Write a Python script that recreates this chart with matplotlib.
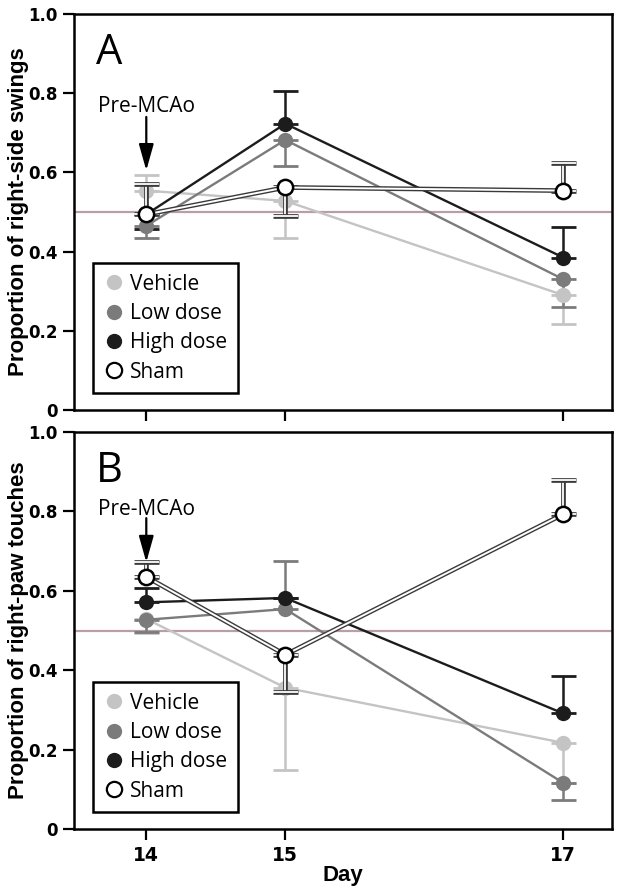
import matplotlib
matplotlib.use("Agg")
import matplotlib.pyplot as plt
import matplotlib.patheffects as pe
from matplotlib.lines import Line2D
import numpy as np

days = [14, 15, 17]
groups = ["Vehicle", "Low dose", "High dose", "Sham"]

# Panel A: proportion of right-side swings
a_vehicle = [0.554, 0.528, 0.290]
a_low = [0.465, 0.682, 0.330]
a_high = [0.494, 0.723, 0.385]
a_sham = [0.494, 0.562, 0.554]
a_vehicle_lo = [0.0, 0.093, 0.074]
a_vehicle_hi = [0.040, 0.0, 0.0]
a_low_lo = [0.030, 0.067, 0.070]
a_low_hi = [0.0, 0.0, 0.0]
a_high_lo = [0.038, 0.0, 0.0]
a_high_hi = [0.0, 0.083, 0.076]
a_sham_lo = [0.0, 0.072, 0.0]
a_sham_hi = [0.077, 0.0, 0.071]

# Panel B: proportion of right-paw touches
b_vehicle = [0.529, 0.356, 0.217]
b_low = [0.527, 0.554, 0.116]
b_high = [0.571, 0.582, 0.291]
b_sham = [0.635, 0.439, 0.793]
b_vehicle_lo = [0.035, 0.208, 0.100]
b_vehicle_hi = [0.0, 0.0, 0.0]
b_low_lo = [0.032, 0.0, 0.043]
b_low_hi = [0.0, 0.122, 0.0]
b_high_lo = [0.0, 0.0, 0.0]
b_high_hi = [0.037, 0.0, 0.095]
b_sham_lo = [0.0, 0.093, 0.0]
b_sham_hi = [0.038, 0.0, 0.085]

colors = {"Vehicle": "#c4c4c4", "Low dose": "#7b7b7b", "High dose": "#1c1c1c"}

fig = plt.figure(figsize=(6.19, 8.90), dpi=100)
axA = fig.add_axes([74/619, 1-410/890, 538/619, 396/890])
axB = fig.add_axes([74/619, 1-829/890, 538/619, 397/890])

legend_font = "Open Sans"

def draw_panel(ax, series, letter, ylabel, show_xlabels):
    ax.axhline(0.5, color="#b99ea8", lw=1.6, zorder=1)
    for name, y, lo, hi in series:
        y = np.array(y); lo = np.array(lo); hi = np.array(hi)
        if name == "Sham":
            eff = [pe.Stroke(linewidth=3.4, foreground="#3a3a3a"), pe.Normal()]
            ax.errorbar(days, y, yerr=[lo, hi], fmt="none", ecolor="white",
                        elinewidth=1.3, capsize=9, capthick=1.3, zorder=5)
            for l in ax.lines[-2:]:
                l.set_path_effects(eff)
            for c in ax.collections[-1:]:
                c.set_path_effects(eff)
            ax.plot(days, y, color="white", lw=1.4, zorder=6,
                    path_effects=eff)
            ax.plot(days, y, "o", ms=11, mfc="white", mec="black", mew=1.8,
                    zorder=7, ls="none")
        else:
            c = colors[name]
            ax.errorbar(days, y, yerr=[lo, hi], fmt="none", ecolor=c,
                        elinewidth=1.8, capsize=9, capthick=2.0, zorder=3)
            ax.plot(days, y, "-o", color=c, lw=1.7, ms=11, mew=0, zorder=4)
    ax.set_xlim(13.48, 17.35)
    ax.set_ylim(0, 1.0)
    ax.set_yticks([0, 0.2, 0.4, 0.6, 0.8, 1.0])
    ax.set_yticklabels(["0", "0.2", "0.4", "0.6", "0.8", "1.0"],
                       fontweight="bold", fontsize=12, family="DejaVu Sans")
    ax.set_xticks(days)
    if show_xlabels:
        ax.set_xticklabels([str(d) for d in days], fontweight="bold",
                           fontsize=13.5, family="DejaVu Sans")
        ax.set_xlabel("Day", fontweight="bold", fontsize=16,
                      family="Liberation Sans", labelpad=0)
    else:
        ax.set_xticklabels([])
    ax.tick_params(direction="out", length=8, width=1.6, pad=4)
    for s in ax.spines.values():
        s.set_linewidth(1.8)
    ax.set_ylabel(ylabel, fontweight="bold", fontsize=16,
                  family=["Liberation Sans Narrow", "Liberation Sans"])
    ax.yaxis.set_label_coords(-0.084, 0.5)
    ax.text(0.04, 0.955, letter, transform=ax.transAxes, fontsize=30,
            family=legend_font, va="top", ha="left")
    handles = []
    for name in groups:
        if name == "Sham":
            h = Line2D([], [], marker="o", ls="none", ms=11, mfc="white",
                       mec="black", mew=1.6)
        else:
            h = Line2D([], [], marker="o", ls="none", ms=11,
                       color=colors[name], mew=0)
        handles.append(h)
    leg = ax.legend(handles, groups, loc="lower left",
                    bbox_to_anchor=(0.035, 0.043), fancybox=False,
                    framealpha=1, edgecolor="black", handletextpad=0.3,
                    labelspacing=0.4, borderpad=0.5, handlelength=1.0,
                    prop={"family": legend_font, "size": 15},
                    borderaxespad=0)
    leg.get_frame().set_linewidth(1.8)


draw_panel(axA, [("Vehicle", a_vehicle, a_vehicle_lo, a_vehicle_hi),
                 ("Low dose", a_low, a_low_lo, a_low_hi),
                 ("High dose", a_high, a_high_lo, a_high_hi),
                 ("Sham", a_sham, a_sham_lo, a_sham_hi)],
           "A", "Proportion of right-side swings", False)
draw_panel(axB, [("Vehicle", b_vehicle, b_vehicle_lo, b_vehicle_hi),
                 ("Low dose", b_low, b_low_lo, b_low_hi),
                 ("High dose", b_high, b_high_lo, b_high_hi),
                 ("Sham", b_sham, b_sham_lo, b_sham_hi)],
           "B", "Proportion of right-paw touches", True)

for ax, ytxt, y0, y1 in [(axA, 0.753, 0.74, 0.605), (axB, 0.79, 0.783, 0.672)]:
    ax.annotate("", xy=(14, y1), xytext=(14, y0),
                arrowprops=dict(arrowstyle="-|>,head_length=1.6,head_width=0.45",
                                color="black", lw=1.6, mutation_scale=10,
                                shrinkA=0, shrinkB=0), zorder=8)
    ax.text(14, ytxt, "Pre-MCAo", ha="center", va="baseline", fontsize=15,
            family=legend_font)

fig.savefig("out.png", dpi=100)
